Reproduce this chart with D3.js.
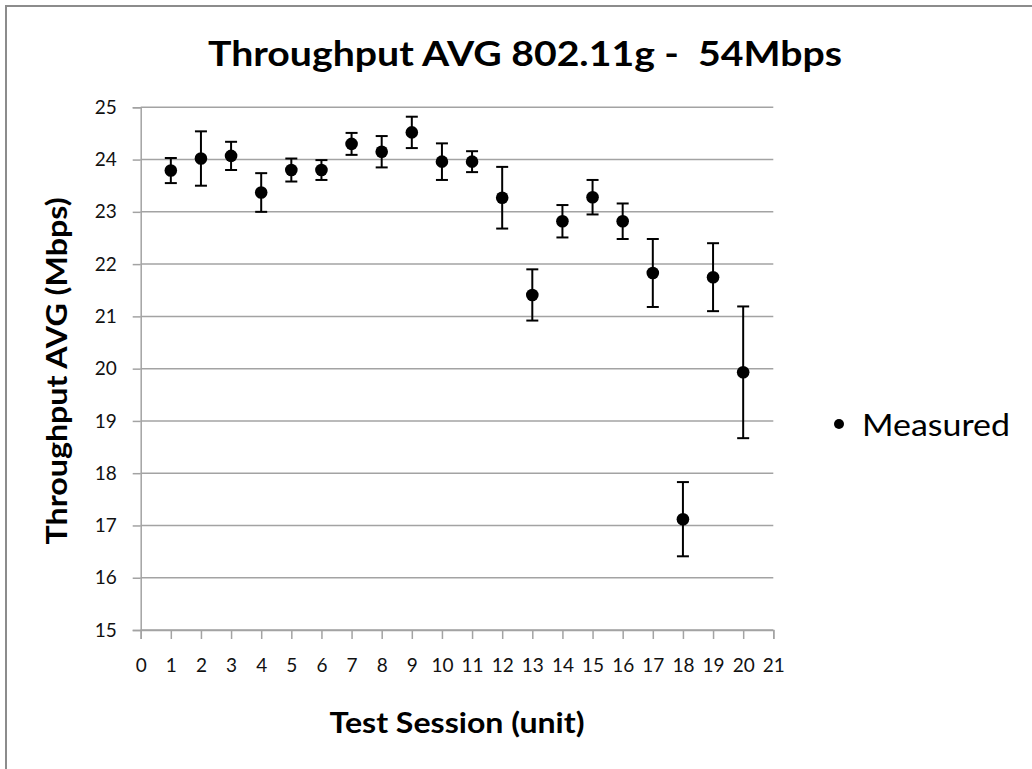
<!DOCTYPE html>
<html>
<head>
<meta charset="utf-8">
<script src="https://cdn.jsdelivr.net/npm/d3@7"></script>
<style>
  html, body { margin: 0; padding: 0; background: #fff; }
  svg { display: block; }
</style>
</head>
<body>
<svg id="chart" width="1032" height="769"></svg>
<script>
// ---- data ----
const sessions = [1,2,3,4,5,6,7,8,9,10,11,12,13,14,15,16,17,18,19,20];
const throughput = [23.79,24.02,24.07,23.37,23.80,23.80,24.30,24.15,24.52,23.96,23.96,23.27,21.41,22.82,23.28,22.82,21.83,17.12,21.75,19.93];
const errorBars = [0.24,0.52,0.27,0.37,0.22,0.19,0.21,0.30,0.30,0.35,0.20,0.59,0.49,0.31,0.33,0.34,0.65,0.71,0.65,1.26];
const xTicks = d3.range(0, 22);
const yTicks = d3.range(15, 26);
const seriesName = "Measured";
const titleText = "Throughput AVG 802.11g -  54Mbps";
const xTitle = "Test Session (unit)";
const yTitle = "Throughput AVG (Mbps)";

// ---- layout ----
const svg = d3.select("#chart");
const L = 140.7, R = 773.3, T = 107.3, B = 630;
const x = d3.scaleLinear().domain([0, 21]).range([L, R]);
const y = d3.scaleLinear().domain([15, 25]).range([B, T]);
const gridColor = "#a3a3a3";
const font = "Lato, 'Open Sans', sans-serif";

svg.append("rect").attr("x", 0).attr("y", 0).attr("width", 1032).attr("height", 769).attr("fill", "#fff");
svg.append("rect").attr("x", 6).attr("y", 6).attr("width", 1060).attr("height", 800)
  .attr("fill", "none").attr("stroke", "#8c8c8c").attr("stroke-width", 2);

// gridlines
svg.append("g").selectAll("line").data(yTicks).join("line")
  .attr("x1", L).attr("x2", R)
  .attr("y1", d => y(d)).attr("y2", d => y(d))
  .attr("stroke", gridColor).attr("stroke-width", 1.5);

// y axis
const yAxis = svg.append("g").attr("transform", `translate(${L},0)`)
  .call(d3.axisLeft(y).tickValues(yTicks).tickSize(8).tickPadding(16).tickFormat(d3.format("d")));
yAxis.select(".domain").attr("stroke", gridColor).attr("stroke-width", 1.5);
yAxis.selectAll(".tick line").attr("stroke", gridColor).attr("stroke-width", 1.5);
yAxis.selectAll(".tick text").attr("font-family", font).attr("font-size", 19).attr("fill", "#111");

// x axis
const xAxis = svg.append("g").attr("transform", `translate(0,${B})`)
  .call(d3.axisBottom(x).tickValues(xTicks).tickSize(9).tickPadding(20).tickFormat(d3.format("d")));
xAxis.select(".domain").attr("stroke", gridColor).attr("stroke-width", 1.5);
xAxis.selectAll(".tick line").attr("stroke", gridColor).attr("stroke-width", 1.5);
xAxis.selectAll(".tick text").attr("font-family", font).attr("font-size", 19).attr("fill", "#111");

// error bars
const eb = svg.append("g").attr("stroke", "#000").attr("stroke-width", 2);
sessions.forEach((s, i) => {
  const cx = x(s), hi = y(throughput[i] + errorBars[i]), lo = y(throughput[i] - errorBars[i]);
  eb.append("line").attr("x1", cx).attr("x2", cx).attr("y1", hi).attr("y2", lo);
  eb.append("line").attr("x1", cx - 6).attr("x2", cx + 6).attr("y1", hi).attr("y2", hi);
  eb.append("line").attr("x1", cx - 6).attr("x2", cx + 6).attr("y1", lo).attr("y2", lo);
});

// points
svg.append("g").selectAll("circle").data(sessions).join("circle")
  .attr("cx", d => x(d)).attr("cy", (d, i) => y(throughput[i]))
  .attr("r", 6.3).attr("fill", "#000");

// titles
svg.append("text").attr("x", 525).attr("y", 66).attr("text-anchor", "middle")
  .style("white-space", "pre").attr("xml:space", "preserve")
  .attr("font-family", font).attr("font-weight", "bold").attr("font-size", 35)
  .attr("textLength", 634).attr("lengthAdjust", "spacingAndGlyphs").text(titleText);

svg.append("text").attr("x", 457).attr("y", 733).attr("text-anchor", "middle")
  .attr("font-family", font).attr("font-weight", "bold").attr("font-size", 29)
  .attr("textLength", 255).attr("lengthAdjust", "spacingAndGlyphs").text(xTitle);

svg.append("text").attr("transform", "translate(67,371) rotate(-90)").attr("text-anchor", "middle")
  .attr("font-family", font).attr("font-weight", "bold").attr("font-size", 29)
  .attr("textLength", 347).attr("lengthAdjust", "spacingAndGlyphs").text(yTitle);

// legend
svg.append("circle").attr("cx", 839).attr("cy", 424).attr("r", 5).attr("fill", "#000");
svg.append("text").attr("x", 862).attr("y", 436)
  .attr("font-family", font).attr("font-size", 31)
  .attr("textLength", 148).attr("lengthAdjust", "spacingAndGlyphs").text(seriesName);
</script>
</body>
</html>
